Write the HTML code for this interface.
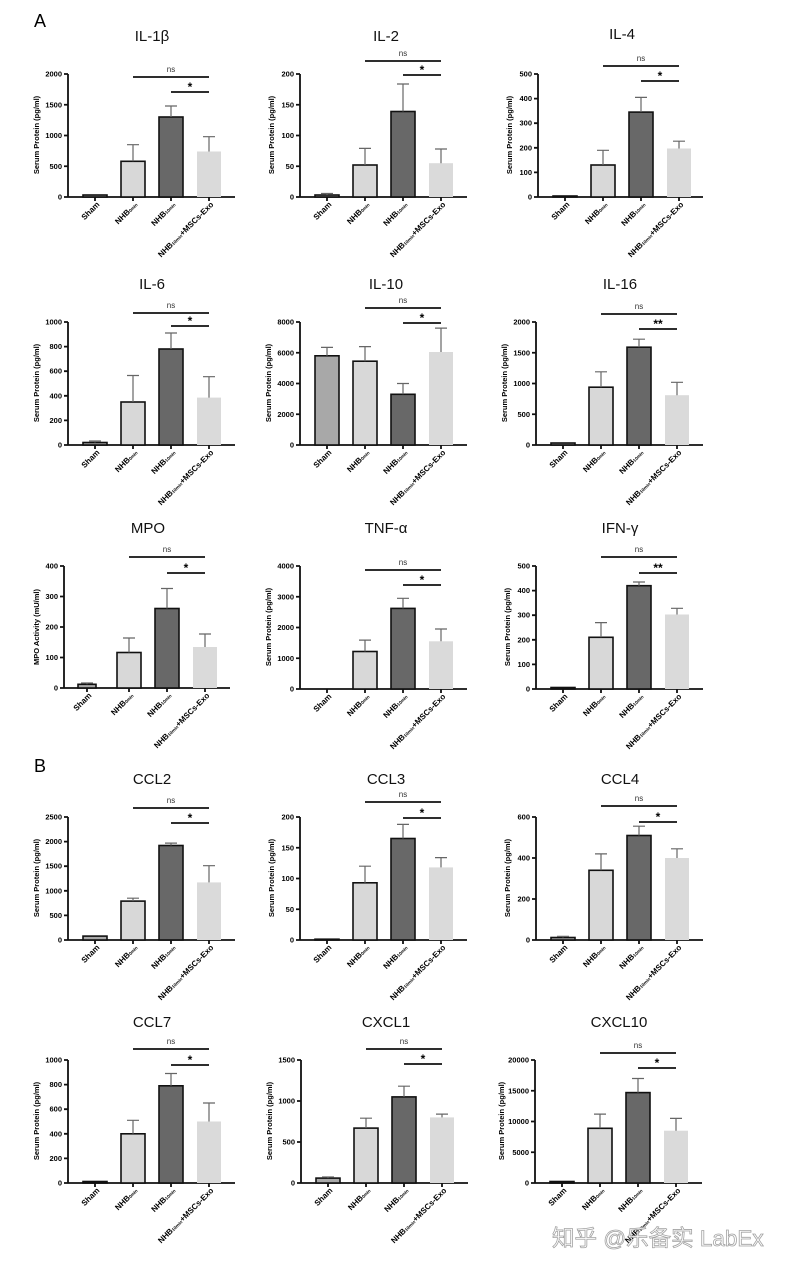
<!DOCTYPE html>
<html><head><meta charset="utf-8"><style>
html,body{margin:0;padding:0;background:#fff}
svg{display:block}
text{font-family:"Liberation Sans",Arial,sans-serif}
.t{font-size:15px;text-anchor:middle;fill:#111}
.yl{font-size:7.5px;font-weight:bold;text-anchor:middle}
.tk{font-size:7.5px;font-weight:bold;text-anchor:end}
.xl{font-size:8px;font-weight:bold;text-anchor:end}
.sb{font-size:4.5px}
.ax{fill:none;stroke:#111;stroke-width:1.8}
.b0{fill:#a8a8a8;stroke:#111;stroke-width:1.6}
.b1{fill:#d8d8d8;stroke:#111;stroke-width:1.6}
.b2{fill:#686868;stroke:#111;stroke-width:1.6}
.b3{fill:#dadada}
.er{fill:none;stroke:#666;stroke-width:1.2}
.sg{stroke:#111;stroke-width:1.8}
.ns{font-size:8px;text-anchor:middle;fill:#333}
.st{font-size:12px;font-weight:bold;text-anchor:middle}
.pl{font-size:18px}
</style></head><body>
<svg width="790" height="1268" viewBox="0 0 790 1268" xmlns="http://www.w3.org/2000/svg">
<text class="pl" x="34" y="27">A</text>
<text class="pl" x="34" y="772">B</text>

<!-- IL-1β -->
<g transform="translate(68,74)">
<text class="t" x="84" y="-33">IL-1β</text>
<text class="yl" transform="translate(-29,61) rotate(-90)">Serum Protein (pg/ml)</text>
<path class="ax" d="M0,0V123H167M-4,0H0M-4,30.75H0M-4,61.5H0M-4,92.25H0M-4,123H0M27,123v4M65,123v4M103,123v4M141,123v4"/>
<text class="tk" x="-6" y="2.5">2000</text><text class="tk" x="-6" y="33.25">1500</text><text class="tk" x="-6" y="64">1000</text><text class="tk" x="-6" y="94.75">500</text><text class="tk" x="-6" y="125.5">0</text>
<rect class="b0" x="15" y="121" width="24" height="2"/><rect class="b1" x="53" y="87.3" width="24" height="35.7"/><rect class="b2" x="91" y="43" width="24" height="80"/><rect class="b3" x="129" y="77.5" width="24" height="45.5"/>
<path class="er" d="M65,87.3V70.7M59,70.7H71M103,43V32M97,32H109M141,77.5V62.7M135,62.7H147"/>
<line class="sg" x1="65" y1="3" x2="141" y2="3"/><text class="ns" x="103" y="-2">ns</text>
<line class="sg" x1="103" y1="18" x2="141" y2="18"/><text class="st" x="122" y="17">*</text>
<g transform="translate(32,131) rotate(-45)"><text class="xl">Sham</text></g>
<g transform="translate(70,131) rotate(-45)"><text class="xl">NHB<tspan class="sb">0min</tspan></text></g>
<g transform="translate(108,131) rotate(-45)"><text class="xl">NHB<tspan class="sb">10min</tspan></text></g>
<g transform="translate(146,131) rotate(-45)"><text class="xl">NHB<tspan class="sb">10min</tspan>+MSCs-Exo</text></g>
</g>

<!-- IL-2 -->
<g transform="translate(300,74)">
<text class="t" x="86" y="-33">IL-2</text>
<text class="yl" transform="translate(-26,61) rotate(-90)">Serum Protein (pg/ml)</text>
<path class="ax" d="M0,0V123H167M-4,0H0M-4,30.75H0M-4,61.5H0M-4,92.25H0M-4,123H0M27,123v4M65,123v4M103,123v4M141,123v4"/>
<text class="tk" x="-6" y="2.5">200</text><text class="tk" x="-6" y="33.25">150</text><text class="tk" x="-6" y="64">100</text><text class="tk" x="-6" y="94.75">50</text><text class="tk" x="-6" y="125.5">0</text>
<rect class="b0" x="15" y="121" width="24" height="2"/><rect class="b1" x="53" y="91" width="24" height="32"/><rect class="b2" x="91" y="37.5" width="24" height="85.5"/><rect class="b3" x="129" y="89.2" width="24" height="33.8"/>
<path class="er" d="M27,121V119.5M21,119.5H33M65,91V74.4M59,74.4H71M103,37.5V10M97,10H109M141,89.2V75M135,75H147"/>
<line class="sg" x1="65" y1="-13" x2="141" y2="-13"/><text class="ns" x="103" y="-18">ns</text>
<line class="sg" x1="103" y1="1" x2="141" y2="1"/><text class="st" x="122" y="0">*</text>
<g transform="translate(32,131) rotate(-45)"><text class="xl">Sham</text></g>
<g transform="translate(70,131) rotate(-45)"><text class="xl">NHB<tspan class="sb">0min</tspan></text></g>
<g transform="translate(108,131) rotate(-45)"><text class="xl">NHB<tspan class="sb">10min</tspan></text></g>
<g transform="translate(146,131) rotate(-45)"><text class="xl">NHB<tspan class="sb">10min</tspan>+MSCs-Exo</text></g>
</g>

<!-- IL-4 -->
<g transform="translate(538,74)">
<text class="t" x="84" y="-35">IL-4</text>
<text class="yl" transform="translate(-26,61) rotate(-90)">Serum Protein (pg/ml)</text>
<path class="ax" d="M0,0V123H165M-4,0H0M-4,24.6H0M-4,49.2H0M-4,73.8H0M-4,98.4H0M-4,123H0M27,123v4M65,123v4M103,123v4M141,123v4"/>
<text class="tk" x="-6" y="2.5">500</text><text class="tk" x="-6" y="27.1">400</text><text class="tk" x="-6" y="51.7">300</text><text class="tk" x="-6" y="76.3">200</text><text class="tk" x="-6" y="100.9">100</text><text class="tk" x="-6" y="125.5">0</text>
<rect class="b0" x="15" y="122" width="24" height="1"/><rect class="b1" x="53" y="91" width="24" height="32"/><rect class="b2" x="91" y="38.1" width="24" height="84.9"/><rect class="b3" x="129" y="74.5" width="24" height="48.5"/>
<path class="er" d="M65,91V76.3M59,76.3H71M103,38.1V23.4M97,23.4H109M141,74.5V67.2M135,67.2H147"/>
<line class="sg" x1="65" y1="-8" x2="141" y2="-8"/><text class="ns" x="103" y="-13">ns</text>
<line class="sg" x1="103" y1="7" x2="141" y2="7"/><text class="st" x="122" y="6">*</text>
<g transform="translate(32,131) rotate(-45)"><text class="xl">Sham</text></g>
<g transform="translate(70,131) rotate(-45)"><text class="xl">NHB<tspan class="sb">0min</tspan></text></g>
<g transform="translate(108,131) rotate(-45)"><text class="xl">NHB<tspan class="sb">10min</tspan></text></g>
<g transform="translate(146,131) rotate(-45)"><text class="xl">NHB<tspan class="sb">10min</tspan>+MSCs-Exo</text></g>
</g>

<!-- IL-6 -->
<g transform="translate(68,322)">
<text class="t" x="84" y="-33">IL-6</text>
<text class="yl" transform="translate(-29,61) rotate(-90)">Serum Protein (pg/ml)</text>
<path class="ax" d="M0,0V123H167M-4,0H0M-4,24.6H0M-4,49.2H0M-4,73.8H0M-4,98.4H0M-4,123H0M27,123v4M65,123v4M103,123v4M141,123v4"/>
<text class="tk" x="-6" y="2.5">1000</text><text class="tk" x="-6" y="27.1">800</text><text class="tk" x="-6" y="51.7">600</text><text class="tk" x="-6" y="76.3">400</text><text class="tk" x="-6" y="100.9">200</text><text class="tk" x="-6" y="125.5">0</text>
<rect class="b0" x="15" y="120.5" width="24" height="2.5"/><rect class="b1" x="53" y="80" width="24" height="43"/><rect class="b2" x="91" y="27" width="24" height="96"/><rect class="b3" x="129" y="75.6" width="24" height="47.4"/>
<path class="er" d="M27,120.5V119M21,119H33M65,80V53.5M59,53.5H71M103,27V11M97,11H109M141,75.6V54.7M135,54.7H147"/>
<line class="sg" x1="65" y1="-9" x2="141" y2="-9"/><text class="ns" x="103" y="-14">ns</text>
<line class="sg" x1="103" y1="4" x2="141" y2="4"/><text class="st" x="122" y="3">*</text>
<g transform="translate(32,131) rotate(-45)"><text class="xl">Sham</text></g>
<g transform="translate(70,131) rotate(-45)"><text class="xl">NHB<tspan class="sb">0min</tspan></text></g>
<g transform="translate(108,131) rotate(-45)"><text class="xl">NHB<tspan class="sb">10min</tspan></text></g>
<g transform="translate(146,131) rotate(-45)"><text class="xl">NHB<tspan class="sb">10min</tspan>+MSCs-Exo</text></g>
</g>

<!-- IL-10 -->
<g transform="translate(300,322)">
<text class="t" x="86" y="-33">IL-10</text>
<text class="yl" transform="translate(-29,61) rotate(-90)">Serum Protein (pg/ml)</text>
<path class="ax" d="M0,0V123H167M-4,0H0M-4,30.75H0M-4,61.5H0M-4,92.25H0M-4,123H0M27,123v4M65,123v4M103,123v4M141,123v4"/>
<text class="tk" x="-6" y="2.5">8000</text><text class="tk" x="-6" y="33.25">6000</text><text class="tk" x="-6" y="64">4000</text><text class="tk" x="-6" y="94.75">2000</text><text class="tk" x="-6" y="125.5">0</text>
<rect class="b0" x="15" y="33.8" width="24" height="89.2"/><rect class="b1" x="53" y="39.2" width="24" height="83.8"/><rect class="b2" x="91" y="72.3" width="24" height="50.7"/><rect class="b3" x="129" y="30" width="24" height="93"/>
<path class="er" d="M27,33.8V25.4M21,25.4H33M65,39.2V24.6M59,24.6H71M103,72.3V61.5M97,61.5H109M141,30V6.1M135,6.1H147"/>
<line class="sg" x1="65" y1="-14" x2="141" y2="-14"/><text class="ns" x="103" y="-19">ns</text>
<line class="sg" x1="103" y1="1" x2="141" y2="1"/><text class="st" x="122" y="0">*</text>
<g transform="translate(32,131) rotate(-45)"><text class="xl">Sham</text></g>
<g transform="translate(70,131) rotate(-45)"><text class="xl">NHB<tspan class="sb">0min</tspan></text></g>
<g transform="translate(108,131) rotate(-45)"><text class="xl">NHB<tspan class="sb">10min</tspan></text></g>
<g transform="translate(146,131) rotate(-45)"><text class="xl">NHB<tspan class="sb">10min</tspan>+MSCs-Exo</text></g>
</g>

<!-- IL-16 -->
<g transform="translate(536,322)">
<text class="t" x="84" y="-33">IL-16</text>
<text class="yl" transform="translate(-29,61) rotate(-90)">Serum Protein (pg/ml)</text>
<path class="ax" d="M0,0V123H167M-4,0H0M-4,30.75H0M-4,61.5H0M-4,92.25H0M-4,123H0M27,123v4M65,123v4M103,123v4M141,123v4"/>
<text class="tk" x="-6" y="2.5">2000</text><text class="tk" x="-6" y="33.25">1500</text><text class="tk" x="-6" y="64">1000</text><text class="tk" x="-6" y="94.75">500</text><text class="tk" x="-6" y="125.5">0</text>
<rect class="b0" x="15" y="121" width="24" height="2"/><rect class="b1" x="53" y="65.2" width="24" height="57.8"/><rect class="b2" x="91" y="25.2" width="24" height="97.8"/><rect class="b3" x="129" y="73.2" width="24" height="49.8"/>
<path class="er" d="M65,65.2V49.8M59,49.8H71M103,25.2V17.2M97,17.2H109M141,73.2V60.3M135,60.3H147"/>
<line class="sg" x1="65" y1="-8" x2="141" y2="-8"/><text class="ns" x="103" y="-13">ns</text>
<line class="sg" x1="103" y1="7" x2="141" y2="7"/><text class="st" x="122" y="6">**</text>
<g transform="translate(32,131) rotate(-45)"><text class="xl">Sham</text></g>
<g transform="translate(70,131) rotate(-45)"><text class="xl">NHB<tspan class="sb">0min</tspan></text></g>
<g transform="translate(108,131) rotate(-45)"><text class="xl">NHB<tspan class="sb">10min</tspan></text></g>
<g transform="translate(146,131) rotate(-45)"><text class="xl">NHB<tspan class="sb">10min</tspan>+MSCs-Exo</text></g>
</g>

<!-- MPO -->
<g transform="translate(64,566)">
<text class="t" x="84" y="-33">MPO</text>
<text class="yl" transform="translate(-25,61) rotate(-90)">MPO Activity (mU/ml)</text>
<path class="ax" d="M0,0V122H166M-4,0H0M-4,30.5H0M-4,61H0M-4,91.5H0M-4,122H0M23,122v4M65,122v4M103,122v4M141,122v4"/>
<text class="tk" x="-6" y="2.5">400</text><text class="tk" x="-6" y="33">300</text><text class="tk" x="-6" y="63.5">200</text><text class="tk" x="-6" y="94">100</text><text class="tk" x="-6" y="124.5">0</text>
<rect class="b0" x="14" y="118.3" width="18" height="3.7"/><rect class="b1" x="53" y="86.5" width="24" height="35.5"/><rect class="b2" x="91" y="42.5" width="24" height="79.5"/><rect class="b3" x="129" y="81" width="24" height="41"/>
<path class="er" d="M23,118.3V117M17,117H29M65,86.5V72M59,72H71M103,42.5V22.5M97,22.5H109M141,81V68M135,68H147"/>
<line class="sg" x1="65" y1="-9" x2="141" y2="-9"/><text class="ns" x="103" y="-14">ns</text>
<line class="sg" x1="103" y1="7" x2="141" y2="7"/><text class="st" x="122" y="6">*</text>
<g transform="translate(28,130) rotate(-45)"><text class="xl">Sham</text></g>
<g transform="translate(70,130) rotate(-45)"><text class="xl">NHB<tspan class="sb">0min</tspan></text></g>
<g transform="translate(108,130) rotate(-45)"><text class="xl">NHB<tspan class="sb">10min</tspan></text></g>
<g transform="translate(146,130) rotate(-45)"><text class="xl">NHB<tspan class="sb">10min</tspan>+MSCs-Exo</text></g>
</g>

<!-- TNF-α -->
<g transform="translate(300,566)">
<text class="t" x="86" y="-33">TNF-α</text>
<text class="yl" transform="translate(-29,61) rotate(-90)">Serum Protein (pg/ml)</text>
<path class="ax" d="M0,0V123H167M-4,0H0M-4,30.75H0M-4,61.5H0M-4,92.25H0M-4,123H0M27,123v4M65,123v4M103,123v4M141,123v4"/>
<text class="tk" x="-6" y="2.5">4000</text><text class="tk" x="-6" y="33.25">3000</text><text class="tk" x="-6" y="64">2000</text><text class="tk" x="-6" y="94.75">1000</text><text class="tk" x="-6" y="125.5">0</text>
<rect class="b1" x="53" y="85.5" width="24" height="37.5"/><rect class="b2" x="91" y="42.4" width="24" height="80.6"/><rect class="b3" x="129" y="75.3" width="24" height="47.7"/>
<path class="er" d="M65,85.5V74.1M59,74.1H71M103,42.4V32.3M97,32.3H109M141,75.3V63M135,63H147"/>
<line class="sg" x1="65" y1="4" x2="141" y2="4"/><text class="ns" x="103" y="-1">ns</text>
<line class="sg" x1="103" y1="19" x2="141" y2="19"/><text class="st" x="122" y="18">*</text>
<g transform="translate(32,131) rotate(-45)"><text class="xl">Sham</text></g>
<g transform="translate(70,131) rotate(-45)"><text class="xl">NHB<tspan class="sb">0min</tspan></text></g>
<g transform="translate(108,131) rotate(-45)"><text class="xl">NHB<tspan class="sb">10min</tspan></text></g>
<g transform="translate(146,131) rotate(-45)"><text class="xl">NHB<tspan class="sb">10min</tspan>+MSCs-Exo</text></g>
</g>

<!-- IFN-γ -->
<g transform="translate(536,566)">
<text class="t" x="84" y="-33">IFN-γ</text>
<text class="yl" transform="translate(-26,61) rotate(-90)">Serum Protein (pg/ml)</text>
<path class="ax" d="M0,0V123H167M-4,0H0M-4,24.6H0M-4,49.2H0M-4,73.8H0M-4,98.4H0M-4,123H0M27,123v4M65,123v4M103,123v4M141,123v4"/>
<text class="tk" x="-6" y="2.5">500</text><text class="tk" x="-6" y="27.1">400</text><text class="tk" x="-6" y="51.7">300</text><text class="tk" x="-6" y="76.3">200</text><text class="tk" x="-6" y="100.9">100</text><text class="tk" x="-6" y="125.5">0</text>
<rect class="b0" x="15" y="121.5" width="24" height="1.5"/><rect class="b1" x="53" y="71.3" width="24" height="51.7"/><rect class="b2" x="91" y="19.7" width="24" height="103.3"/><rect class="b3" x="129" y="48.5" width="24" height="74.5"/>
<path class="er" d="M65,71.3V56.6M59,56.6H71M103,19.7V16M97,16H109M141,48.5V42.3M135,42.3H147"/>
<line class="sg" x1="65" y1="-9" x2="141" y2="-9"/><text class="ns" x="103" y="-14">ns</text>
<line class="sg" x1="103" y1="7" x2="141" y2="7"/><text class="st" x="122" y="6">**</text>
<g transform="translate(32,131) rotate(-45)"><text class="xl">Sham</text></g>
<g transform="translate(70,131) rotate(-45)"><text class="xl">NHB<tspan class="sb">0min</tspan></text></g>
<g transform="translate(108,131) rotate(-45)"><text class="xl">NHB<tspan class="sb">10min</tspan></text></g>
<g transform="translate(146,131) rotate(-45)"><text class="xl">NHB<tspan class="sb">10min</tspan>+MSCs-Exo</text></g>
</g>

<!-- CCL2 -->
<g transform="translate(68,817)">
<text class="t" x="84" y="-33">CCL2</text>
<text class="yl" transform="translate(-29,61) rotate(-90)">Serum Protein (pg/ml)</text>
<path class="ax" d="M0,0V123H167M-4,0H0M-4,24.6H0M-4,49.2H0M-4,73.8H0M-4,98.4H0M-4,123H0M27,123v4M65,123v4M103,123v4M141,123v4"/>
<text class="tk" x="-6" y="2.5">2500</text><text class="tk" x="-6" y="27.1">2000</text><text class="tk" x="-6" y="51.7">1500</text><text class="tk" x="-6" y="76.3">1000</text><text class="tk" x="-6" y="100.9">500</text><text class="tk" x="-6" y="125.5">0</text>
<rect class="b0" x="15" y="119.1" width="24" height="3.9"/><rect class="b1" x="53" y="84.1" width="24" height="38.9"/><rect class="b2" x="91" y="28.5" width="24" height="94.5"/><rect class="b3" x="129" y="65.4" width="24" height="57.6"/>
<path class="er" d="M65,84.1V81.2M59,81.2H71M103,28.5V26.1M97,26.1H109M141,65.4V48.7M135,48.7H147"/>
<line class="sg" x1="65" y1="-9" x2="141" y2="-9"/><text class="ns" x="103" y="-14">ns</text>
<line class="sg" x1="103" y1="6" x2="141" y2="6"/><text class="st" x="122" y="5">*</text>
<g transform="translate(32,131) rotate(-45)"><text class="xl">Sham</text></g>
<g transform="translate(70,131) rotate(-45)"><text class="xl">NHB<tspan class="sb">0min</tspan></text></g>
<g transform="translate(108,131) rotate(-45)"><text class="xl">NHB<tspan class="sb">10min</tspan></text></g>
<g transform="translate(146,131) rotate(-45)"><text class="xl">NHB<tspan class="sb">10min</tspan>+MSCs-Exo</text></g>
</g>

<!-- CCL3 -->
<g transform="translate(300,817)">
<text class="t" x="86" y="-33">CCL3</text>
<text class="yl" transform="translate(-26,61) rotate(-90)">Serum Protein (pg/ml)</text>
<path class="ax" d="M0,0V123H167M-4,0H0M-4,30.75H0M-4,61.5H0M-4,92.25H0M-4,123H0M27,123v4M65,123v4M103,123v4M141,123v4"/>
<text class="tk" x="-6" y="2.5">200</text><text class="tk" x="-6" y="33.25">150</text><text class="tk" x="-6" y="64">100</text><text class="tk" x="-6" y="94.75">50</text><text class="tk" x="-6" y="125.5">0</text>
<rect class="b0" x="15" y="122.2" width="24" height="0.8"/><rect class="b1" x="53" y="65.8" width="24" height="57.2"/><rect class="b2" x="91" y="21.5" width="24" height="101.5"/><rect class="b3" x="129" y="50.4" width="24" height="72.6"/>
<path class="er" d="M65,65.8V49.2M59,49.2H71M103,21.5V7.4M97,7.4H109M141,50.4V40.6M135,40.6H147"/>
<line class="sg" x1="65" y1="-15" x2="141" y2="-15"/><text class="ns" x="103" y="-20">ns</text>
<line class="sg" x1="103" y1="1" x2="141" y2="1"/><text class="st" x="122" y="0">*</text>
<g transform="translate(32,131) rotate(-45)"><text class="xl">Sham</text></g>
<g transform="translate(70,131) rotate(-45)"><text class="xl">NHB<tspan class="sb">0min</tspan></text></g>
<g transform="translate(108,131) rotate(-45)"><text class="xl">NHB<tspan class="sb">10min</tspan></text></g>
<g transform="translate(146,131) rotate(-45)"><text class="xl">NHB<tspan class="sb">10min</tspan>+MSCs-Exo</text></g>
</g>

<!-- CCL4 -->
<g transform="translate(536,817)">
<text class="t" x="84" y="-33">CCL4</text>
<text class="yl" transform="translate(-26,61) rotate(-90)">Serum Protein (pg/ml)</text>
<path class="ax" d="M0,0V123H167M-4,0H0M-4,41H0M-4,82H0M-4,123H0M27,123v4M65,123v4M103,123v4M141,123v4"/>
<text class="tk" x="-6" y="2.5">600</text><text class="tk" x="-6" y="43.5">400</text><text class="tk" x="-6" y="84.5">200</text><text class="tk" x="-6" y="125.5">0</text>
<rect class="b0" x="15" y="120.5" width="24" height="2.5"/><rect class="b1" x="53" y="53.3" width="24" height="69.7"/><rect class="b2" x="91" y="18.5" width="24" height="104.5"/><rect class="b3" x="129" y="41" width="24" height="82"/>
<path class="er" d="M27,120.5V119.3M21,119.3H33M65,53.3V36.9M59,36.9H71M103,18.5V9.2M97,9.2H109M141,41V31.8M135,31.8H147"/>
<line class="sg" x1="65" y1="-11" x2="141" y2="-11"/><text class="ns" x="103" y="-16">ns</text>
<line class="sg" x1="103" y1="5" x2="141" y2="5"/><text class="st" x="122" y="4">*</text>
<g transform="translate(32,131) rotate(-45)"><text class="xl">Sham</text></g>
<g transform="translate(70,131) rotate(-45)"><text class="xl">NHB<tspan class="sb">0min</tspan></text></g>
<g transform="translate(108,131) rotate(-45)"><text class="xl">NHB<tspan class="sb">10min</tspan></text></g>
<g transform="translate(146,131) rotate(-45)"><text class="xl">NHB<tspan class="sb">10min</tspan>+MSCs-Exo</text></g>
</g>

<!-- CCL7 -->
<g transform="translate(68,1060)">
<text class="t" x="84" y="-33">CCL7</text>
<text class="yl" transform="translate(-29,61) rotate(-90)">Serum Protein (pg/ml)</text>
<path class="ax" d="M0,0V123H167M-4,0H0M-4,24.6H0M-4,49.2H0M-4,73.8H0M-4,98.4H0M-4,123H0M27,123v4M65,123v4M103,123v4M141,123v4"/>
<text class="tk" x="-6" y="2.5">1000</text><text class="tk" x="-6" y="27.1">800</text><text class="tk" x="-6" y="51.7">600</text><text class="tk" x="-6" y="76.3">400</text><text class="tk" x="-6" y="100.9">200</text><text class="tk" x="-6" y="125.5">0</text>
<rect class="b0" x="15" y="121.5" width="24" height="1.5"/><rect class="b1" x="53" y="73.8" width="24" height="49.2"/><rect class="b2" x="91" y="25.8" width="24" height="97.2"/><rect class="b3" x="129" y="61.5" width="24" height="61.5"/>
<path class="er" d="M65,73.8V60.3M59,60.3H71M103,25.8V13.5M97,13.5H109M141,61.5V43M135,43H147"/>
<line class="sg" x1="65" y1="-11" x2="141" y2="-11"/><text class="ns" x="103" y="-16">ns</text>
<line class="sg" x1="103" y1="5" x2="141" y2="5"/><text class="st" x="122" y="4">*</text>
<g transform="translate(32,131) rotate(-45)"><text class="xl">Sham</text></g>
<g transform="translate(70,131) rotate(-45)"><text class="xl">NHB<tspan class="sb">0min</tspan></text></g>
<g transform="translate(108,131) rotate(-45)"><text class="xl">NHB<tspan class="sb">10min</tspan></text></g>
<g transform="translate(146,131) rotate(-45)"><text class="xl">NHB<tspan class="sb">10min</tspan>+MSCs-Exo</text></g>
</g>

<!-- CXCL1 -->
<g transform="translate(301,1060)">
<text class="t" x="85" y="-33">CXCL1</text>
<text class="yl" transform="translate(-29,61) rotate(-90)">Serum Protein (pg/ml)</text>
<path class="ax" d="M0,0V123H167M-4,0H0M-4,41H0M-4,82H0M-4,123H0M27,123v4M65,123v4M103,123v4M141,123v4"/>
<text class="tk" x="-6" y="2.5">1500</text><text class="tk" x="-6" y="43.5">1000</text><text class="tk" x="-6" y="84.5">500</text><text class="tk" x="-6" y="125.5">0</text>
<rect class="b0" x="15" y="118.1" width="24" height="4.9"/><rect class="b1" x="53" y="68.1" width="24" height="54.9"/><rect class="b2" x="91" y="36.9" width="24" height="86.1"/><rect class="b3" x="129" y="57.4" width="24" height="65.6"/>
<path class="er" d="M27,118.1V117M21,117H33M65,68.1V58.2M59,58.2H71M103,36.9V26.2M97,26.2H109M141,57.4V54.1M135,54.1H147"/>
<line class="sg" x1="65" y1="-11" x2="141" y2="-11"/><text class="ns" x="103" y="-16">ns</text>
<line class="sg" x1="103" y1="4" x2="141" y2="4"/><text class="st" x="122" y="3">*</text>
<g transform="translate(32,131) rotate(-45)"><text class="xl">Sham</text></g>
<g transform="translate(70,131) rotate(-45)"><text class="xl">NHB<tspan class="sb">0min</tspan></text></g>
<g transform="translate(108,131) rotate(-45)"><text class="xl">NHB<tspan class="sb">10min</tspan></text></g>
<g transform="translate(146,131) rotate(-45)"><text class="xl">NHB<tspan class="sb">10min</tspan>+MSCs-Exo</text></g>
</g>

<!-- CXCL10 -->
<g transform="translate(535,1060)">
<text class="t" x="84" y="-33">CXCL10</text>
<text class="yl" transform="translate(-31,61) rotate(-90)">Serum Protein (pg/ml)</text>
<path class="ax" d="M0,0V123H167M-4,0H0M-4,30.75H0M-4,61.5H0M-4,92.25H0M-4,123H0M27,123v4M65,123v4M103,123v4M141,123v4"/>
<text class="tk" x="-6" y="2.5">20000</text><text class="tk" x="-6" y="33.25">15000</text><text class="tk" x="-6" y="64">10000</text><text class="tk" x="-6" y="94.75">5000</text><text class="tk" x="-6" y="125.5">0</text>
<rect class="b0" x="15" y="121.5" width="24" height="1.5"/><rect class="b1" x="53" y="68.3" width="24" height="54.7"/><rect class="b2" x="91" y="32.6" width="24" height="90.4"/><rect class="b3" x="129" y="70.7" width="24" height="52.3"/>
<path class="er" d="M65,68.3V54.1M59,54.1H71M103,32.6V18.5M97,18.5H109M141,70.7V58.4M135,58.4H147"/>
<line class="sg" x1="65" y1="-7" x2="141" y2="-7"/><text class="ns" x="103" y="-12">ns</text>
<line class="sg" x1="103" y1="8" x2="141" y2="8"/><text class="st" x="122" y="7">*</text>
<g transform="translate(32,131) rotate(-45)"><text class="xl">Sham</text></g>
<g transform="translate(70,131) rotate(-45)"><text class="xl">NHB<tspan class="sb">0min</tspan></text></g>
<g transform="translate(108,131) rotate(-45)"><text class="xl">NHB<tspan class="sb">10min</tspan></text></g>
<g transform="translate(146,131) rotate(-45)"><text class="xl">NHB<tspan class="sb">10min</tspan>+MSCs-Exo</text></g>
</g>

<text x="552" y="1246" style="font-family:'Liberation Sans','Noto Sans CJK SC',sans-serif;font-size:22.5px;fill:#fff;stroke:#999;stroke-width:0.8;opacity:0.9">知乎 @乐备实 LabEx</text>
</svg>
</body></html>
